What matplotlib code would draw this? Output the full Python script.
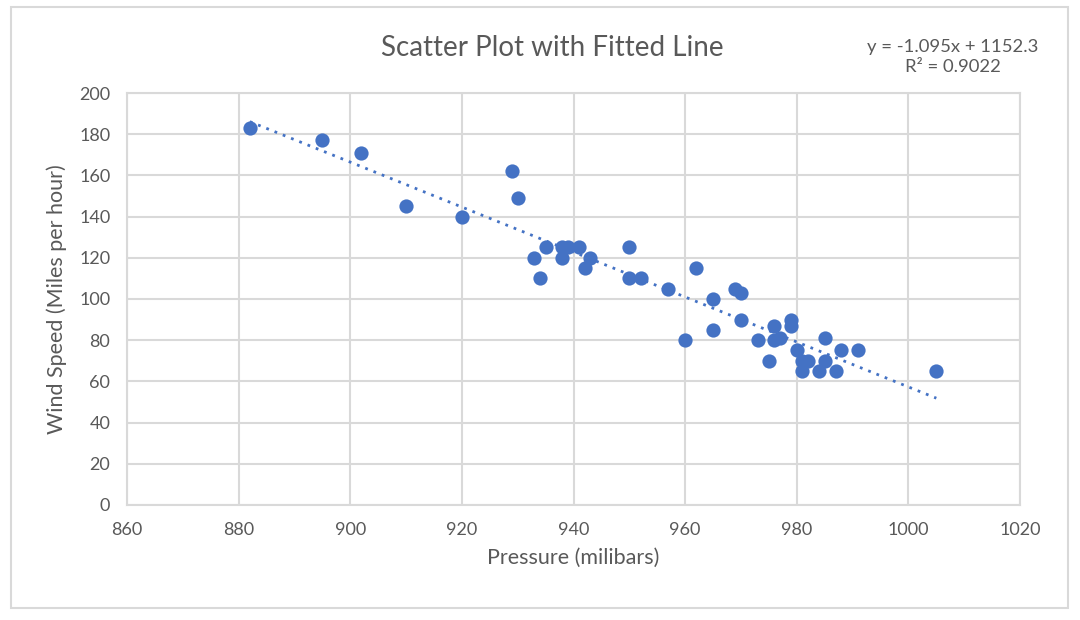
import numpy as np
import matplotlib.pyplot as plt
from matplotlib.patches import Rectangle

# Pressure (milibars) and wind speed (mph)
pressure = [882, 895, 902, 910, 920, 929, 930, 933, 934, 935, 938, 938, 939,
            941, 942, 943, 950, 950, 952, 957, 960, 962, 965, 965, 969, 970,
            970, 973, 975, 976, 976, 977, 979, 979, 980, 981, 981, 982, 984,
            985, 985, 987, 988, 991, 1005]
wind = [183, 177, 171, 145, 140, 162, 149, 120, 110, 125, 125, 120, 125,
        125, 115, 120, 125, 110, 110, 105, 80, 115, 100, 85, 105, 103,
        90, 80, 70, 87, 80, 81, 90, 87, 75, 70, 65, 70, 65,
        81, 70, 65, 75, 75, 65]

x_ticks = [860, 880, 900, 920, 940, 960, 980, 1000, 1020]
y_ticks = [0, 20, 40, 60, 80, 100, 120, 140, 160, 180, 200]

blue = "#4472C4"
grid_col = "#D9D9D9"
text_col = "#595959"

plt.rcParams['font.family'] = ['Lato', 'DejaVu Sans']

fig = plt.figure(figsize=(10.8, 6.2), dpi=100)
ax = fig.add_axes([0.1176, 0.1855, 0.8269, 0.6645])

# outer chart border
fig.patches.append(Rectangle((11 / 1080, 1 - 608 / 620), (1068 - 11) / 1080,
                             (608 - 7) / 620, transform=fig.transFigure,
                             fill=False, edgecolor=grid_col, linewidth=1.5))

ax.scatter(pressure, wind, s=105, color=blue, zorder=3, linewidths=0)

# linear trendline
m, b = np.polyfit(pressure, wind, 1)
xs = np.array([min(pressure), max(pressure)])
ax.plot(xs, m * xs + b, color=blue, linestyle=(0, (1, 2.2)), linewidth=2,
        zorder=2)

ax.set_xlim(860, 1020)
ax.set_ylim(0, 200)
ax.set_xticks(x_ticks)
ax.set_yticks(y_ticks)
ax.grid(True, color=grid_col, linewidth=1.5)
ax.set_axisbelow(True)
for s in ax.spines.values():
    s.set_color(grid_col)
    s.set_linewidth(1.5)
ax.tick_params(length=0, colors=text_col, labelsize=13, pad=12)

ax.set_xlabel("Pressure (milibars)", color=text_col, fontsize=15.5, labelpad=7)
ax.set_ylabel("Wind Speed (Miles per hour)", color=text_col, fontsize=15.5,
              labelpad=9)

fig.text(0.511, 0.922, "Scatter Plot with Fitted Line", ha='center',
         va='center', fontsize=20, color=text_col)
fig.text(0.882, 0.908, "y = -1.095x + 1152.3\nR² = 0.9022", ha='center',
         va='center', fontsize=13.3, color=text_col, linespacing=1.25)

fig.savefig("out.png", dpi=100)
